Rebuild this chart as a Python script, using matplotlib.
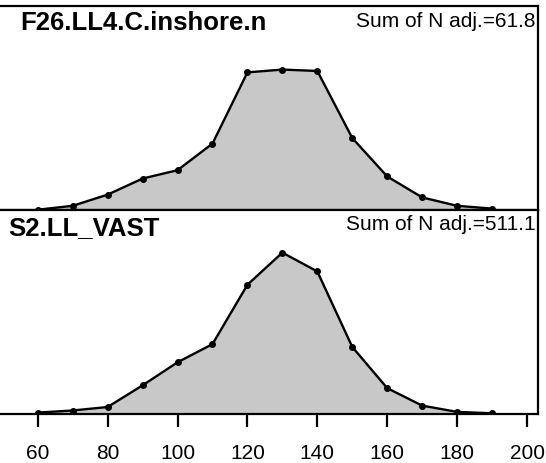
import matplotlib
matplotlib.use("Agg")
import matplotlib.pyplot as plt

# length bins and proportions
LENGTHS = [60, 70, 80, 90, 100, 110, 120, 130, 140, 150, 160, 170, 180, 190]
F26_PROP = [0.0004, 0.006, 0.022, 0.045, 0.057, 0.095, 0.197, 0.201, 0.199, 0.103, 0.048, 0.018, 0.006, 0.002]
S2_PROP = [0.002, 0.005, 0.010, 0.041, 0.074, 0.100, 0.185, 0.231, 0.204, 0.096, 0.037, 0.012, 0.003, 0.001]
PANEL_NAMES = ["F26.LL4.C.inshore.n", "S2.LL_VAST"]
SUM_LABELS = ["Sum of N adj.=61.8", "Sum of N adj.=511.1"]
XTICKS = [60, 80, 100, 120, 140, 160, 180, 200]

plt.rcParams["font.family"] = ["Liberation Sans", "DejaVu Sans"]

fig = plt.figure(figsize=(5.46, 4.63), dpi=100)
W, H = 546, 463
RIGHT_PX = 537.7

def add_panel(top_px, bottom_px):
    return fig.add_axes([0, (H - bottom_px) / H, RIGHT_PX / W, (bottom_px - top_px) / H])

axes = [add_panel(6, 210), add_panel(210, 414)]
series = [F26_PROP, S2_PROP]
# text anchors in pixels: (name x, name baseline below top, sum baseline below top)
name_x_px = [20, 8]
name_drop_px = [24, 25]
sum_drop_px = [21.3, 20.5]

for ax, vals, name, sumlab, nx, nd, sd in zip(axes, series, PANEL_NAMES, SUM_LABELS,
                                              name_x_px, name_drop_px, sum_drop_px):
    ax.fill_between(LENGTHS, 0, vals, color="#c8c8c8", lw=0)
    ax.plot(LENGTHS, vals, "-o", color="black", lw=1.7, ms=4)
    ax.set_xlim(49.2, 203.06)
    ax.set_ylim(0, 0.292)
    ax.set_yticks([])
    ax.spines["left"].set_visible(False)
    for s in ["top", "right", "bottom"]:
        ax.spines[s].set_linewidth(1.6)
    ax.text(nx / RIGHT_PX, 1 - nd / 204, name, transform=ax.transAxes, fontsize=18.5,
            fontweight="bold", ha="left", va="baseline")
    ax.text(535.3 / RIGHT_PX, 1 - sd / 204, sumlab, transform=ax.transAxes, fontsize=15,
            ha="right", va="baseline")

axes[0].set_xticks([])
axes[1].set_xticks(XTICKS)
axes[1].tick_params(axis="x", length=9.1, width=1.6, labelsize=15, pad=12.5)

fig.savefig("out.png", dpi=100)
